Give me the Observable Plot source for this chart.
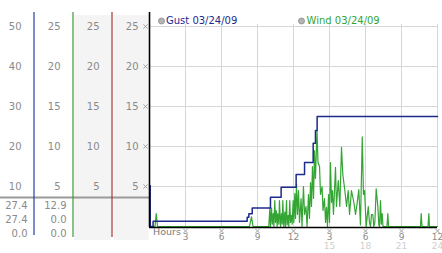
<!DOCTYPE html>
<html><head><meta charset="utf-8">
<script src="https://cdn.jsdelivr.net/npm/d3@7"></script>
<script src="https://cdn.jsdelivr.net/npm/@observablehq/plot@0.6"></script>
<style>html,body{margin:0;padding:0;background:#fff}svg{display:block}</style>
</head><body><div id="chart"></div>
<script>
// ---- data ----
const yTicks = [5, 10, 15, 20, 25];
const hourTicks = [3, 6, 9, 12, 15, 18, 21, 24];
const hourTicks2 = [15, 18, 21, 24];
const statsCol1 = ["27.4", "27.4", "0.0"];
const statsCol2 = ["12.9", "0.0", "0.0"];
const gustLabel = "Gust 03/24/09";
const windLabel = "Wind 03/24/09";
const axisLabel = "Hours";

const gustHours  = [0, 0.06, 0.3, 8.14, 8.28, 8.56, 10.08, 10.97, 12.22, 12.92, 13.64, 13.83, 13.97, 24];
const gustValues = [5.1, 0, 0.65, 1.15, 1.6, 2.3, 3.65, 4.9, 6.5, 8.0, 10.4, 12.0, 13.75, 13.75];

const windHours = [0, 0.46, 0.56, 0.67, 8.33, 8.5, 8.63, 9.94, 10.03, 10.08, 10.17, 10.23, 10.31, 10.36, 10.44, 10.5,
  10.56, 10.64, 10.69, 10.78, 10.83, 10.92, 11.0, 11.06, 11.11, 11.19, 11.28, 11.33, 11.42, 11.47, 11.56, 11.61,
  11.69, 11.75, 11.83, 11.89, 11.97, 12.03, 12.11, 12.17, 12.25, 12.33, 12.42, 12.5, 12.63, 12.71, 12.83, 12.92,
  13.04, 13.13, 13.25, 13.33, 13.42, 13.5, 13.58, 13.67, 13.75, 13.83, 13.96, 14.04, 14.17, 14.25, 14.38, 14.46,
  14.58, 14.67, 14.75, 14.83, 14.92, 15.0, 15.08, 15.17, 15.25, 15.33, 15.5, 15.58, 15.73, 15.86, 16.0, 16.11,
  16.28, 16.42, 16.56, 16.67, 16.83, 17.03, 17.17, 17.31, 17.44, 17.58, 17.73, 17.83, 17.92, 18.06, 18.23, 18.33,
  18.42, 18.5, 18.61, 18.69, 18.78, 18.89, 19.03, 19.11, 19.17, 19.25, 19.32, 19.39, 19.46, 19.79, 19.86, 19.92,
  22.58, 22.64, 22.71, 23.21, 23.28, 23.33, 24];
const windValues = [0, 0, 1.6, 0, 0, 1.2, 0, 0, 2.3, 0, 2.3, 0.3, 1.6, 0, 3.25, 0.5,
  2.0, 0, 1.6, 0.3, 3.25, 0, 1.6, 0.3, 3.25, 0, 1.8, 0, 3.25, 0.2, 1.4, 0,
  3.25, 0.5, 1.4, 0.3, 3.25, 0.5, 4.1, 1.0, 5.3, 1.5, 4.5, 0.5, 3.5, 0, 5.0, 1.5,
  2.5, 0, 4.0, 1.0, 5.5, 2.5, 7.5, 3.5, 9.5, 6.0, 12.0, 8.0, 7.5, 4.0, 5.0, 2.0,
  3.5, 0.5, 2.4, 0, 4.0, 0.5, 8.0, 3.0, 4.5, 1.5, 7.4, 2.5, 5.75, 2.5, 9.9, 6.5,
  4.5, 2.5, 4.5, 1.5, 4.5, 3.0, 1.5, 3.0, 4.6, 0.2, 11.2, 4.0, 4.5, 0, 2.5, 0.5,
  0, 1.5, 1.5, 0, 0.5, 4.7, 2.5, 0.2, 0, 3.25, 0.3, 1.6, 0, 0, 1.6, 0,
  0, 1.6, 0, 0, 1.6, 0, 0];

const gust = gustHours.map((h, i) => ({h, v: gustValues[i]}));
const wind = windHours.map((h, i) => ({h, v: windValues[i]}));

// ---- layout ----
const W = 442, H = 253, X0 = 149, X1 = 437;
const pxPerHour = (X1 - X0) / 24;
const leftEdgeHour = -X0 / pxPerHour;
const font = "'DejaVu Sans', Verdana, sans-serif";
const grey = "#8a8a8a";
const blue = "#1c2a8c";
const green = "#33a533";

const colAxis = (dx, fmt) => Plot.axisY({
  ticks: yTicks, anchor: "left", tickSize: 0, tickPadding: 0, dx,
  tickFormat: fmt, color: grey, label: null, textAnchor: "end", lineAnchor: "middle"
});

const chart = Plot.plot({
  width: W, height: H,
  marginLeft: X0, marginRight: W - X1, marginTop: 12, marginBottom: 17,
  style: {fontFamily: font, fontSize: "10px", background: "#fff", overflow: "visible"},
  x: {domain: [0, 24], range: [X0, X1], label: null},
  y: {domain: [0, 25], range: [226, 26], label: null},
  marks: [
    // shaded left columns
    Plot.ruleX([0], {dx: 92 - X0, stroke: "#f4f4f4", strokeWidth: 37, insetTop: 3, insetBottom: -4}),
    Plot.ruleX([0], {dx: 130.5 - X0, stroke: "#f4f4f4", strokeWidth: 35, insetTop: 3, insetBottom: -4}),
    // divider
    Plot.ruleY([0], {x1: leftEdgeHour, x2: 0, dy: -29, stroke: "#9a9a9a", strokeWidth: 2}),
    // coloured column separators
    Plot.ruleX([0], {dx: 33.5 - X0, stroke: "#2442a0", strokeWidth: 1.2, insetBottom: 1}),
    Plot.ruleX([0], {dx: 72.5 - X0, stroke: "#3a9a3a", strokeWidth: 1.2, insetBottom: -1}),
    Plot.ruleX([0], {dx: 111.5 - X0, stroke: "#a83232", strokeWidth: 1.2, insetBottom: -1}),
    // column labels
    colAxis(21 - X0, d => String(d * 2)),
    colAxis(60 - X0, d => String(d)),
    colAxis(99 - X0, d => String(d)),
    colAxis(138 - X0, d => String(d)),
    Plot.dot(yTicks, {y: d => d, frameAnchor: "left", dx: -4, symbol: "times", r: 2, stroke: "#a0a0a0", strokeWidth: 1}),
    // stats
    Plot.text([statsCol1.join("\n")], {text: d => d, frameAnchor: "top-left", dx: 27 - X0, dy: 206.3,
      textAnchor: "end", lineAnchor: "middle", lineHeight: 1.37, fill: grey}),
    Plot.text([statsCol2.join("\n")], {text: d => d, frameAnchor: "top-left", dx: 66 - X0, dy: 206.3,
      textAnchor: "end", lineAnchor: "middle", lineHeight: 1.37, fill: grey}),
    // grid
    Plot.gridY({ticks: yTicks, stroke: "#d6d6d6", strokeOpacity: 1}),
    Plot.gridX({ticks: hourTicks, stroke: "#d6d6d6", strokeOpacity: 1, insetTop: 12, insetBottom: 10}),
    // data
    Plot.line(wind, {x: "h", y: "v", stroke: green, strokeWidth: 1.2}),
    Plot.line(gust, {x: "h", y: "v", curve: "step-after", stroke: blue, strokeWidth: 1.5}),
    // axes lines
    Plot.ruleX([0], {stroke: "#000", strokeWidth: 1.6, insetBottom: 9}),
    Plot.ruleY([0], {stroke: "#000", strokeWidth: 1.5, dy: 1}),
    // x axis labels
    Plot.dot(hourTicks, {x: d => d, frameAnchor: "bottom", dy: -5.5, symbol: "times", r: 2, stroke: "#a0a0a0", strokeWidth: 1}),
    Plot.axisX({ticks: hourTicks, anchor: "bottom", tickSize: 0, tickPadding: 0, dy: 0.5, lineAnchor: "middle",
      tickFormat: h => String((h - 1) % 12 + 1), color: grey, label: null, fontSize: 9}),
    Plot.axisX({ticks: hourTicks2, anchor: "bottom", tickSize: 0, tickPadding: 0, dy: 10, lineAnchor: "middle",
      tickFormat: h => String(h), color: "#cfcfcf", label: null, fontSize: 9}),
    Plot.text([axisLabel], {text: d => d, frameAnchor: "bottom-left", dx: 3.5, dy: -4.3,
      textAnchor: "start", lineAnchor: "middle", fill: "#7a7a7a", fontSize: 9.5}),
    // legend
    Plot.dot([0], {frameAnchor: "top-left", dx: 12, dy: 8.5, r: 3, fill: "#b4b4b4", stroke: "#8c8c8c", strokeWidth: 0.8}),
    Plot.text([gustLabel], {text: d => d, frameAnchor: "top-left", dx: 16.5, dy: 8, textAnchor: "start",
      lineAnchor: "middle", fill: blue, fontSize: 10}),
    Plot.dot([0], {frameAnchor: "top-left", dx: 152, dy: 8.5, r: 3, fill: "#b4b4b4", stroke: "#8c8c8c", strokeWidth: 0.8}),
    Plot.text([windLabel], {text: d => d, frameAnchor: "top-left", dx: 157, dy: 8, textAnchor: "start",
      lineAnchor: "middle", fill: green, fontSize: 10})
  ]
});
document.getElementById("chart").append(chart);
</script>
</body></html>
